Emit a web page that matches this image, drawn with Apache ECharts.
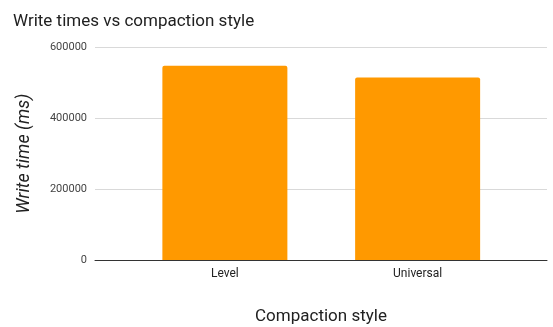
<!DOCTYPE html>
<html>
<head>
<meta charset="utf-8">
<script src="https://cdn.jsdelivr.net/npm/echarts@6/dist/echarts.min.js"></script>
<style>
  html, body { margin: 0; padding: 0; background: #fff; }
  #chart { width: 553px; height: 327px; }
</style>
</head>
<body>
<div id="chart"></div>
<script>
// Compaction styles and their measured write times (ms)
const categories = ['Level', 'Universal'];
const writeTimes = [548000, 515000];
const yTicks = [0, 200000, 400000, 600000];

const FONT = 'Roboto, "Noto Sans", sans-serif';
const yMin = yTicks[0];
const yMax = yTicks[yTicks.length - 1];
const yStep = yTicks[1] - yTicks[0];

const chart = echarts.init(document.getElementById('chart'), null, { renderer: 'canvas' });

chart.setOption({
  animation: false,
  backgroundColor: '#ffffff',
  textStyle: { fontFamily: FONT },
  title: {
    text: 'Write times vs compaction style',
    left: 8,
    top: 8,
    textStyle: { fontFamily: FONT, fontSize: 17, fontWeight: 'normal', color: '#212121' }
  },
  grid: [
    // full-width frame: gridlines, value labels, baseline
    { left: 95, right: 6, top: 47.3, bottom: 67, containLabel: false, outerBoundsMode: 'none' },
    // inner frame that holds the bars and category labels
    { left: 128.5, right: 39, top: 47.3, bottom: 67, containLabel: false, outerBoundsMode: 'none' }
  ],
  xAxis: [
    {
      type: 'category',
      gridIndex: 0,
      data: categories,
      axisLine: { show: true, lineStyle: { color: '#333333', width: 1 } },
      axisTick: { show: false },
      axisLabel: { show: false },
      name: 'Compaction style',
      nameLocation: 'middle',
      nameGap: 48,
      nameTextStyle: { fontFamily: FONT, fontSize: 17, color: '#212121' }
    },
    {
      type: 'category',
      gridIndex: 1,
      data: categories,
      axisLine: { show: false },
      axisTick: { show: false },
      axisLabel: { fontFamily: FONT, fontSize: 12, color: '#222222', margin: 8 }
    }
  ],
  yAxis: [
    {
      type: 'value',
      gridIndex: 0,
      min: yMin,
      max: yMax,
      interval: yStep,
      axisLine: { show: false },
      axisTick: { show: false },
      axisLabel: {
        fontFamily: FONT, fontSize: 11, color: '#444444', margin: 8,
        formatter: (v) => String(v)
      },
      splitLine: { show: true, lineStyle: { color: '#d9d9d9', width: 1 } },
      name: 'Write time (ms)',
      nameLocation: 'middle',
      nameGap: 62,
      nameTextStyle: { fontFamily: FONT, fontSize: 18, fontStyle: 'italic', color: '#212121' }
    },
    {
      type: 'value',
      gridIndex: 1,
      min: yMin,
      max: yMax,
      interval: yStep,
      show: false,
      splitLine: { show: false }
    }
  ],
  series: [
    {
      type: 'bar',
      xAxisIndex: 1,
      yAxisIndex: 1,
      data: writeTimes,
      barWidth: 125,
      itemStyle: { color: '#ff9900', borderRadius: [2, 2, 0, 0] },
      z: 3
    }
  ]
});
</script>
</body>
</html>
